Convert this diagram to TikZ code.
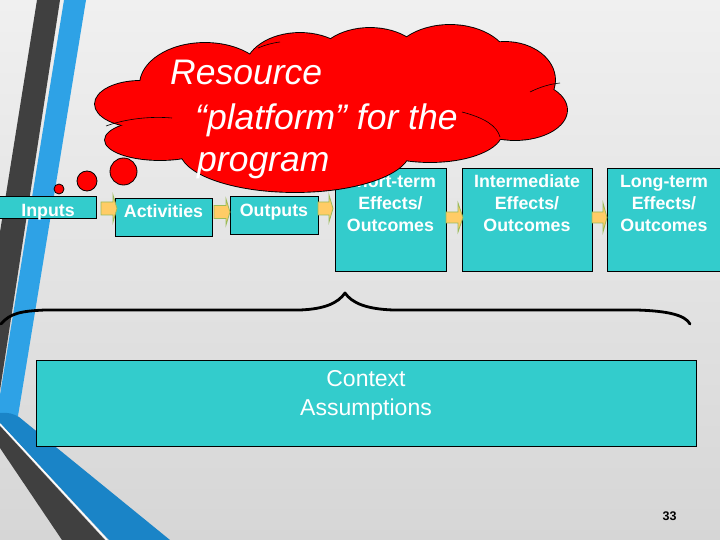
\documentclass[tikz,border=0pt]{standalone}
\usepackage{fontspec}
\setmainfont{Liberation Sans}
\usetikzlibrary{calc}
\definecolor{tealbox}{HTML}{33CCCC}
\definecolor{bgtop}{HTML}{F0F0F0}
\definecolor{bgbot}{HTML}{D6D6D6}
\definecolor{stripedark}{HTML}{404040}
\definecolor{stripeblue}{HTML}{2EA2E6}
\definecolor{stripeblue2}{HTML}{1A84C7}
\definecolor{arrfill}{HTML}{FFCC66}
\definecolor{arrline}{HTML}{9BBB59}
\definecolor{cloudred}{HTML}{FF0000}
\tikzset{
  box/.style={draw=black, line width=1.2pt, fill=tealbox, inner sep=0pt, anchor=north west},
  btxt/.style={font=\bfseries\fontsize{17.8}{21}\selectfont, text=white, anchor=base, inner sep=0pt},
  ctxt/.style={font=\itshape\fontsize{35.5}{42}\selectfont, text=white, anchor=base west, inner sep=0pt},
  xtxt/.style={font=\fontsize{23}{28}\selectfont, text=white, anchor=base, inner sep=0pt},
  blkarr/.style={fill=arrfill, draw=arrline, line width=0.8pt, line join=miter},
  bubble/.style={fill=cloudred, draw=black, line width=0.8pt},
  innerarc/.style={black, line width=0.6pt},
}
\newcommand\blkarrow[6]{%
  \draw[blkarr] (#1,#3-#4) -- (#6,#3-#4) -- (#6,#3-#5) -- (#2,#3) -- (#6,#3+#5) -- (#6,#3+#4) -- (#1,#3+#4) -- cycle;}
\begin{document}
\begin{tikzpicture}[x=1pt,y=-1pt]
\useasboundingbox (0,0) rectangle (720,540);
% background
\shade[top color=bgtop, bottom color=bgbot] (0,0) rectangle (720,540);
% left decoration stripes
\fill[stripedark] (37,0) -- (60,0) -- (0,390) -- (0,232) -- cycle;
\fill[stripeblue] (64,0) -- (86,0) -- (18,416) -- (0,414) -- (0,395) -- cycle;
\fill[stripeblue2] (0,413) .. controls (8,412) and (14,414) .. (19,417) -- (170,540) -- (109,540) -- (0,423) -- cycle;
\fill[stripedark] (0,426) -- (105,540) -- (62,540) -- (0,448) -- cycle;
\draw[white, line width=1.2pt] (0,424) -- (107,540);
% boxes
\node[box, minimum width=97pt, minimum height=22pt] (in) at (-1,196) {};
\node[box, minimum width=97pt, minimum height=38pt] (act) at (115,198) {};
\node[box, minimum width=88pt, minimum height=38pt] (out) at (230,196) {};
\node[box, minimum width=111pt, minimum height=103pt] (st) at (335,168) {};
\node[box, minimum width=130pt, minimum height=103pt] (im) at (462,168) {};
\node[box, minimum width=116pt, minimum height=103pt] (lt) at (607,168) {};
\node[btxt] (tin) at (48,217) {Inputs};
\node[btxt] (tact) at (163.5,218) {Activities};
\node[btxt] (tout) at (274,217) {Outputs};
\node[btxt] (tst1) at (390.5,188) {Short-term};
\node[btxt] (tst2) at (390.5,210) {Effects/};
\node[btxt] (tst3) at (390.5,232) {Outcomes};
\node[btxt] (tim1) at (527,188) {Intermediate};
\node[btxt] (tim2) at (527,210) {Effects/};
\node[btxt] (tim3) at (527,232) {Outcomes};
\node[btxt] (tlt1) at (664,188) {Long-term};
\node[btxt] (tlt2) at (664,210) {Effects/};
\node[btxt] (tlt3) at (664,232) {Outcomes};
% block arrows between boxes
\blkarrow{101}{117}{208.5}{6.5}{13.5}{113}
\blkarrow{214}{230}{212}{6.5}{13}{226}
\blkarrow{318}{333}{208.5}{6.5}{13.5}{329}
\blkarrow{446}{463}{217.5}{5.5}{14.5}{458}
\blkarrow{592}{607}{217.5}{5.5}{14.5}{603}
% brace
\coordinate (bl) at (1,324);
\coordinate (btip) at (345,293);
\coordinate (br) at (690,324);
\draw[line width=2.8pt, line cap=round, line join=round]
  (bl) .. controls (10,313) and (22,311) .. (45,310) -- (300,310)
  .. controls (325,309) and (338,303) .. (btip)
  .. controls (352,303) and (366,309) .. (393,310) -- (637,310)
  .. controls (668,311) and (685,315) .. (br);
% context box
\node[box, line width=1pt, minimum width=660pt, minimum height=86pt] (ctx) at (36,360) {};
\node[xtxt] (ctx1) at (366,386) {Context};
\node[xtxt] (ctx2) at (366,415) {Assumptions};
% thought cloud: outline then fill
\def\cloudparts{140/104/45/23, 160/140/55/20, 205/85/65/42, 300/70/55/37, 370/65/55/37,
  450/65/60/40, 505/80/50/38, 515/110/52/30, 430/132/72/30, 295/150/115/42, 330/105/180/45}
\foreach \cx/\cy/\rx/\ry in \cloudparts {
  \draw[black, line width=1.8pt] (\cx,\cy) ellipse [x radius=\rx pt, y radius=\ry pt];
}
\foreach \cx/\cy/\rx/\ry in \cloudparts {
  \fill[cloudred] (\cx,\cy) ellipse [x radius=\rx pt, y radius=\ry pt];
}
% inner arcs of the cloud
\draw[innerarc] (462,112) .. controls (485,118) and (497,126) .. (500,137);
\draw[innerarc] (106,126) .. controls (125,119) and (150,116) .. (172,118);
\draw[innerarc] (530,92) .. controls (540,87) and (550,84) .. (560,83);
\draw[innerarc] (258,48) .. controls (265,45) and (272,43) .. (280,42);
% thought bubbles
\node[bubble, circle, inner sep=0pt, minimum size=10pt] (b1) at (59,189) {};
\node[bubble, circle, inner sep=0pt, minimum size=20pt] (b2) at (87,181) {};
\node[bubble, circle, inner sep=0pt, minimum size=27pt] (b3) at (123.5,171.5) {};
% cloud text
\node[ctxt] (c1) at (170,85) {Resource};
\node[ctxt] (c2) at (195,130) {“platform” for the};
\node[ctxt] (c3) at (197,172) {program};
% page number
\node[font=\bfseries\fontsize{12.5}{14}\selectfont, inner sep=0pt] (pg) at (669.5,516.5) {33};
\end{tikzpicture}
\end{document}
